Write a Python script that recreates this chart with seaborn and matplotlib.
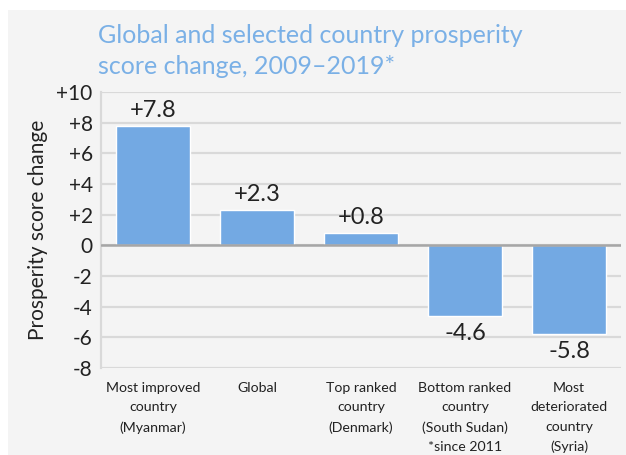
import matplotlib
matplotlib.use("Agg")
import matplotlib.pyplot as plt
import seaborn as sns
import pandas as pd

# Data
categories = [
    "Most improved\ncountry\n(Myanmar)",
    "Global",
    "Top ranked\ncountry\n(Denmark)",
    "Bottom ranked\ncountry\n(South Sudan)\n*since 2011",
    "Most\ndeteriorated\ncountry\n(Syria)",
]
changes = [7.8, 2.3, 0.8, -4.6, -5.8]
value_labels = ["+7.8", "+2.3", "+0.8", "-4.6", "-5.8"]
y_ticks = [10, 8, 6, 4, 2, 0, -2, -4, -6, -8]
y_tick_labels = ["+10", "+8", "+6", "+4", "+2", "0", "-2", "-4", "-6", "-8"]

df = pd.DataFrame({"Category": categories, "Change": changes})

sns.set_style("white")
plt.rcParams["font.family"] = ["Lato", "DejaVu Sans"]

bar_color = "#73a9e3"
title_color = "#7ab0e6"
bg = "#f4f4f4"

fig = plt.figure(figsize=(6.26, 4.55), dpi=100)
fig.patch.set_facecolor("white")
# gray panel behind the chart
fig.add_artist(plt.Rectangle((8 / 626, 0), 1, 1 - 10 / 455,
                             transform=fig.transFigure, facecolor=bg,
                             edgecolor="none", zorder=0))

ax = fig.add_axes([101 / 626, 1 - 368 / 455, 520 / 626, 276 / 455])
ax.set_facecolor(bg)

sns.barplot(data=df, x="Category", y="Change", color=bar_color,
            saturation=1, width=0.72, ax=ax, zorder=3)

ax.set_ylim(-8, 10)
ax.set_yticks(y_ticks)
ax.set_yticklabels(y_tick_labels, fontsize=15, color="#222222")
ax.yaxis.grid(True, color="#d9d9d9", linewidth=1.6, zorder=0)
ax.axhline(0, color="#a6a6a6", linewidth=1.8, zorder=4)
ax.tick_params(axis="y", length=0, pad=6)
ax.tick_params(axis="x", length=0, pad=10, labelsize=10.2, labelcolor="#222222")

for lab in ax.get_xticklabels():
    lab.set_horizontalalignment("center")
    lab.set_verticalalignment("top")
    lab.set_multialignment("center")
    lab.set_linespacing(1.75)

for side in ["top", "right", "bottom"]:
    ax.spines[side].set_visible(False)
ax.spines["left"].set_color("#d9d9d9")
ax.spines["left"].set_linewidth(1.6)

# value labels
for i, (v, t) in enumerate(zip(changes, value_labels)):
    if v >= 0:
        ax.text(i, v + 0.3, t, ha="center", va="bottom", fontsize=17,
                color="#222222")
    else:
        ax.text(i, v - 0.45, t, ha="center", va="top", fontsize=17,
                color="#222222")

ax.set_xlabel("")
ax.set_ylabel("Prosperity score change", fontsize=15, color="#222222",
              labelpad=6)

fig.text(98 / 626, 1 - 24 / 455,
         "Global and selected country prosperity\nscore change, 2009\u20132019*",
         color=title_color, fontsize=18, ha="left", va="top",
         linespacing=1.4)

plt.savefig("out.png", dpi=100)
plt.close()
